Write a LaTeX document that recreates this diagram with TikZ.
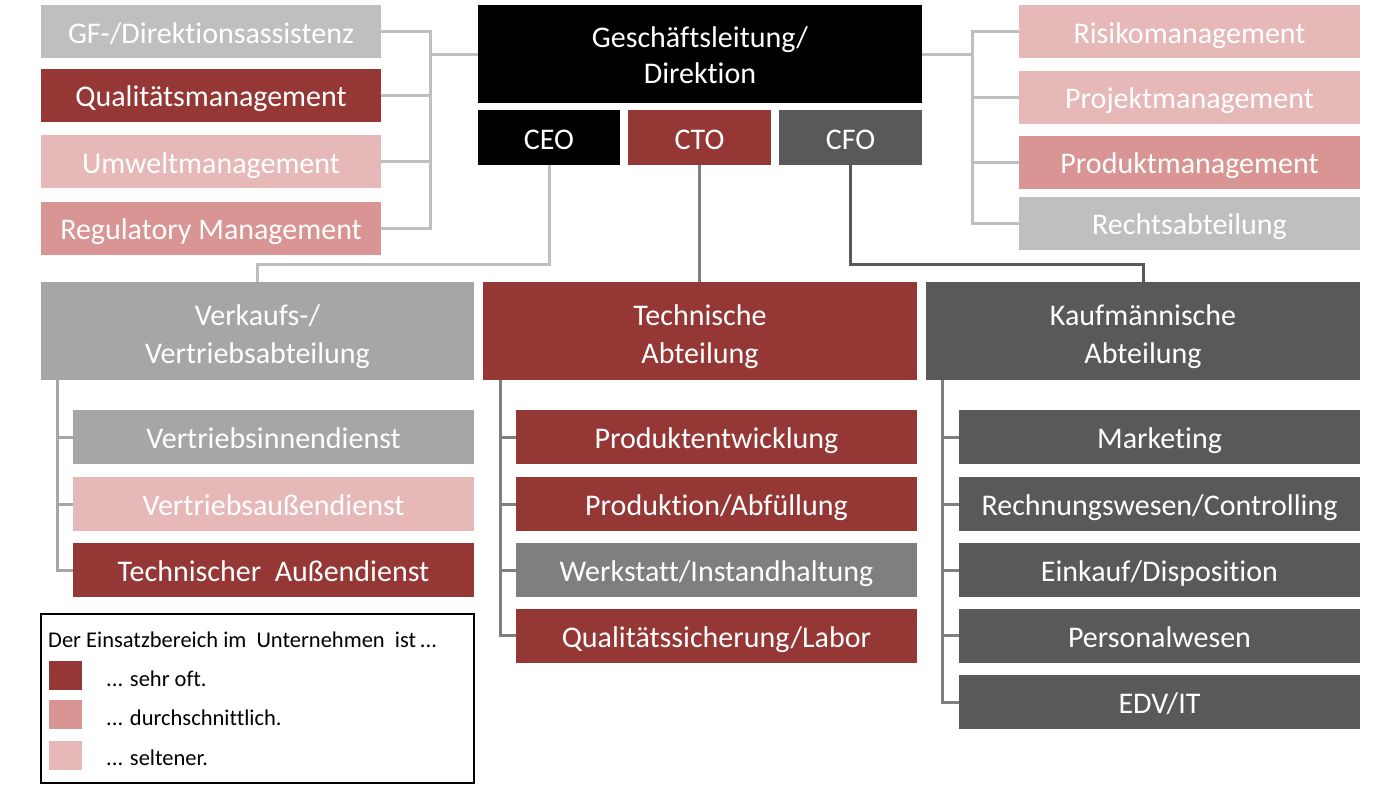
\documentclass[tikz,border=0pt]{standalone}
\usepackage{fontspec}
\setmainfont[Ligatures=NoCommon]{Carlito}
\definecolor{dred}{HTML}{953735}
\definecolor{mpink}{HTML}{D99594}
\definecolor{lpink}{HTML}{E6B9B8}
\definecolor{lgray}{HTML}{BFBFBF}
\definecolor{agray}{HTML}{A6A6A6}
\definecolor{mgray}{HTML}{7F7F7F}
\definecolor{dgray}{HTML}{595959}
\newcommand{\twoline}[4]{\raisebox{#3}[\height][\depth]{\fontsize{30}{#4}\selectfont\begin{tabular}{@{}c@{}}#1\\#2\end{tabular}}}
\begin{document}
\begin{tikzpicture}[x=1pt,y=-1pt,
  box/.style={rectangle, inner sep=0pt, text=white, align=center,
    font=\fontsize{30}{37}\selectfont},
  one/.style={box, text height=29pt, text depth=6pt},
  topl/.style={one, minimum width=340pt, minimum height=53pt},
  topr/.style={one, minimum width=341pt, minimum height=53pt},
  chief/.style={one, minimum width=143pt, minimum height=55pt},
  dept/.style={box, minimum width=434pt, minimum height=98pt},
  sub/.style={one, minimum width=401pt, minimum height=54pt},
  conn/.style={line width=3pt},
  legsq/.style={rectangle, inner sep=0pt, minimum width=33pt, minimum height=29pt},
  legtxt/.style={anchor=west, inner sep=0pt, font=\fontsize{22.5}{26}\selectfont}]
\useasboundingbox (0,0) rectangle (1400,787);
\fill[white] (0,0) rectangle (1400,787);
% top left
\node[topl, fill=lgray] (gf) at (211,31.5) {GF-/Direktionsassistenz};
\node[topl, fill=dred] (qm) at (211,95) {Qualitätsmanagement};
\node[topl, fill=lpink] (um) at (211,161.5) {Umweltmanagement};
\node[topl, fill=mpink] (rm) at (211,228) {Regulatory Management};
% top right
\node[topr, fill=lpink] (risk) at (1189.5,31.5) {Risikomanagement};
\node[topr, fill=lpink] (proj) at (1189.5,97) {Projektmanagement};
\node[topr, fill=mpink] (prod) at (1189.5,162) {Produktmanagement};
\node[topr, fill=lgray] (recht) at (1189.5,223) {Rechtsabteilung};
% management
\node[box, fill=black, minimum width=444pt, minimum height=98pt] (gl) at (700,54) {\twoline{Geschäftsleitung/}{Direktion}{-4pt}{36}};
\node[chief, fill=black, minimum width=142pt] (ceo) at (549,137.5) {CEO};
\node[chief, fill=dred] (cto) at (699.5,137.5) {CTO};
\node[chief, fill=dgray] (cfo) at (850.5,137.5) {CFO};
% departments
\node[dept, fill=agray, minimum width=433pt] (verk) at (257.5,331) {\twoline{Verkaufs-/}{Vertriebsabteilung}{-5.5pt}{38}};
\node[dept, fill=dred] (tech) at (700,331) {\twoline{Technische}{Abteilung}{-5.5pt}{38}};
\node[dept, fill=dgray] (kauf) at (1143,331) {\twoline{Kaufmännische}{Abteilung}{-5.5pt}{38}};
% left subs
\node[sub, fill=agray] (vid) at (273.5,437) {Vertriebsinnendienst};
\node[sub, fill=lpink] (vad) at (273.5,504) {Vertriebsaußendienst};
\node[sub, fill=dred] (tad) at (273.5,570) {Technischer\ \ Außendienst};
% middle subs
\node[sub, fill=dred] (pe) at (716.5,437) {Produktentwicklung};
\node[sub, fill=dred] (pa) at (716.5,504) {Produktion/Abfüllung};
\node[sub, fill=mgray] (wi) at (716.5,570) {Werkstatt/Instandhaltung};
\node[sub, fill=dred] (ql) at (716.5,635.5) {Qualitätssicherung/Labor};
% right subs
\node[sub, fill=dgray] (mk) at (1159.5,437) {Marketing};
\node[sub, fill=dgray] (rw) at (1159.5,504) {Rechnungswesen/Controlling};
\node[sub, fill=dgray] (ek) at (1159.5,570) {Einkauf/Disposition};
\node[sub, fill=dgray] (pw) at (1159.5,635.5) {Personalwesen};
\node[sub, fill=dgray] (edv) at (1159.5,702) {EDV/IT};
% helper coordinates
\coordinate (lb) at (430,0);
\coordinate (rb) at (972,0);
\coordinate (bus) at (0,264);
\coordinate (lx) at (57,0);
\coordinate (mx) at (500,0);
\coordinate (rx) at (942,0);
% top left connectors
\draw[conn, lgray] (gf.east) -| (rm.east -| lb) -- (rm.east);
\draw[conn, lgray] (qm.east) -- (qm.east -| lb);
\draw[conn, lgray] (um.east) -- (um.east -| lb);
\draw[conn, lgray] (gl.west) -- (gl.west -| lb);
% top right connectors
\draw[conn, lgray] (risk.west) -| (recht.west -| rb) -- (recht.west);
\draw[conn, lgray] (proj.west) -- (proj.west -| rb);
\draw[conn, lgray] (prod.west) -- (prod.west -| rb);
\draw[conn, lgray] (gl.east) -- (gl.east -| rb);
% chiefs to departments
\draw[conn, lgray] (ceo.south) -- (ceo.south |- bus) -| (verk.north);
\draw[conn, mgray] (cto.south) -- (cto.south |- tech.north);
\draw[conn, dgray] (cfo.south) -- (cfo.south |- bus) -| (kauf.north);
% left subs connectors
\draw[conn, agray] (verk.south -| lx) |- (tad.west);
\draw[conn, agray] (vid.west) -- (vid.west -| lx);
\draw[conn, agray] (vad.west) -- (vad.west -| lx);
% middle subs connectors
\draw[conn, mgray] (tech.south -| mx) |- (ql.west);
\draw[conn, mgray] (pe.west) -- (pe.west -| mx);
\draw[conn, mgray] (pa.west) -- (pa.west -| mx);
\draw[conn, mgray] (wi.west) -- (wi.west -| mx);
% right subs connectors
\draw[conn, mgray] (kauf.south -| rx) |- (edv.west);
\draw[conn, mgray] (mk.west) -- (mk.west -| rx);
\draw[conn, mgray] (rw.west) -- (rw.west -| rx);
\draw[conn, mgray] (ek.west) -- (ek.west -| rx);
\draw[conn, mgray] (pw.west) -- (pw.west -| rx);
% legend
\node[draw=black, line width=1.2pt, rectangle, inner sep=0pt, minimum width=433pt, minimum height=169pt] (legend) at (257.5,698.5) {};
\node[legtxt] (legtitle) at (48,640) {Der Einsatzbereich im\ \ Unternehmen\ \ ist\,...};
\node[legsq, fill=dred] (sq1) at (65.5,675.5) {};
\node[legsq, fill=mpink] (sq2) at (65.5,714.5) {};
\node[legsq, fill=lpink] (sq3) at (65.5,755) {};
\node[legtxt] (lt1) at (106,679) {... sehr oft.};
\node[legtxt] (lt2) at (106,718) {... durchschnittlich.};
\node[legtxt] (lt3) at (106,758) {... seltener.};
\end{tikzpicture}
\end{document}
